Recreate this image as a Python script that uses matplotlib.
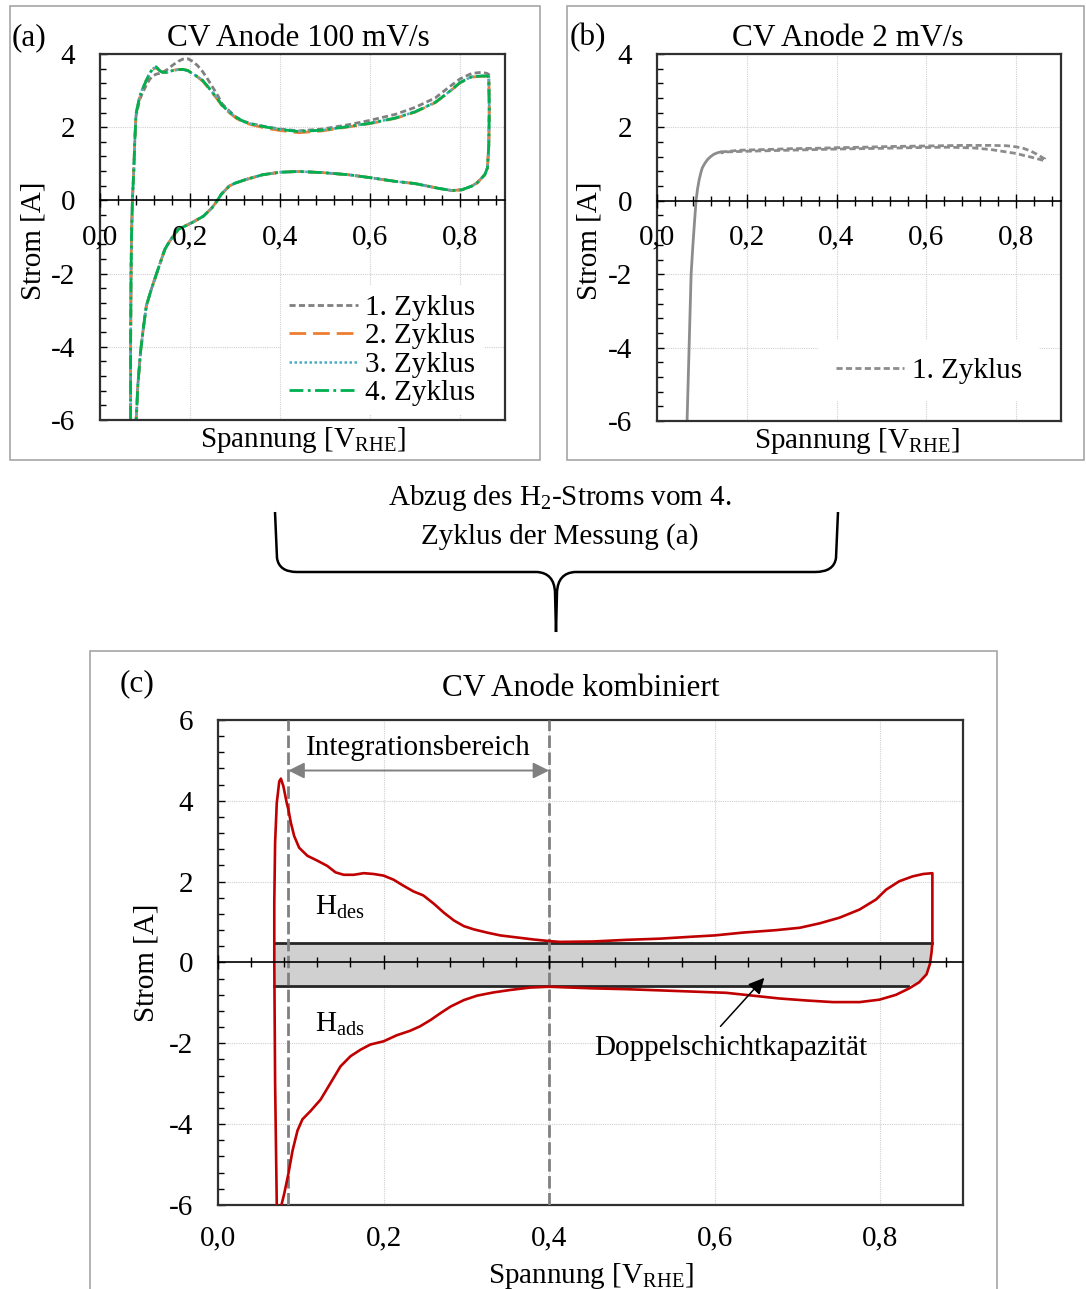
import numpy as np
import matplotlib
matplotlib.use("Agg")
import matplotlib.pyplot as plt
from matplotlib.patches import Rectangle, PathPatch, Polygon
from matplotlib.path import Path
from matplotlib.ticker import FixedLocator, FuncFormatter

plt.rcParams['font.family'] = ['Liberation Serif', 'DejaVu Serif']
plt.rcParams['mathtext.fontset'] = 'custom'
plt.rcParams['mathtext.rm'] = 'Liberation Serif'
plt.rcParams['mathtext.it'] = 'Liberation Serif:italic'
plt.rcParams['mathtext.bf'] = 'Liberation Serif:bold'

W, H = 1086, 1289

# (a) CV 100 mV/s, Spannung in V, Strom in A (ein Umlauf)
v_100 = [0.068, 0.068, 0.069, 0.070, 0.072, 0.075, 0.077, 0.080, 0.088, 0.095,
         0.103, 0.110, 0.117, 0.125, 0.132, 0.139, 0.150, 0.162, 0.174, 0.184,
         0.195, 0.206, 0.217, 0.228, 0.239, 0.250, 0.261, 0.272, 0.287, 0.302,
         0.320, 0.339, 0.370, 0.400, 0.442, 0.494, 0.553, 0.601, 0.656, 0.700,
         0.745, 0.774, 0.800, 0.826, 0.848, 0.860, 0.864, 0.865, 0.864, 0.861,
         0.855, 0.848, 0.838, 0.826, 0.804, 0.782, 0.752, 0.700, 0.656, 0.601,
         0.553, 0.494, 0.442, 0.400, 0.361, 0.324, 0.300, 0.287, 0.269, 0.261,
         0.249, 0.230, 0.204, 0.174, 0.155, 0.144, 0.129, 0.114, 0.103, 0.096,
         0.090, 0.084, 0.081, 0.080]
i_zyk1 = [-6.0, -4.0, -2.0, -1.0, 0.0, 0.80, 1.50, 2.30, 2.75, 2.95,
          3.15, 3.30, 3.40, 3.45, 3.47, 3.50, 3.58, 3.70, 3.80, 3.86,
          3.87, 3.80, 3.68, 3.52, 3.32, 3.10, 2.88, 2.63, 2.45, 2.28,
          2.16, 2.09, 2.01, 1.95, 1.90, 1.95, 2.07, 2.19, 2.35, 2.54,
          2.80, 3.08, 3.32, 3.47, 3.50, 3.47, 3.44, 2.5, 1.5, 0.89,
          0.70, 0.61, 0.48, 0.39, 0.29, 0.27, 0.33, 0.46, 0.52, 0.62,
          0.70, 0.76, 0.79, 0.77, 0.70, 0.57, 0.47, 0.39, 0.16, 0.0,
          -0.20, -0.43, -0.61, -0.79, -1.11, -1.34, -1.88, -2.43, -2.88, -3.52,
          -4.15, -5.06, -5.88, -6.0]
i_zyk2 = [-6.0, -4.0, -2.0, -1.0, 0.0, 0.80, 1.53, 2.36, 2.82, 3.05,
          3.28, 3.45, 3.58, 3.62, 3.55, 3.50, 3.50, 3.55, 3.58, 3.58,
          3.55, 3.46, 3.37, 3.26, 3.10, 2.93, 2.76, 2.57, 2.40, 2.25,
          2.13, 2.06, 1.97, 1.91, 1.85, 1.90, 2.01, 2.10, 2.24, 2.41,
          2.67, 2.94, 3.21, 3.37, 3.39, 3.39, 3.37, 2.5, 1.5, 0.89,
          0.70, 0.61, 0.48, 0.39, 0.29, 0.27, 0.33, 0.46, 0.52, 0.62,
          0.70, 0.76, 0.79, 0.77, 0.70, 0.57, 0.47, 0.39, 0.16, 0.0,
          -0.20, -0.43, -0.61, -0.79, -1.11, -1.34, -1.88, -2.43, -2.88, -3.52,
          -4.15, -5.06, -5.88, -6.0]
i_zyk3 = [-6.0, -4.0, -2.0, -1.0, 0.0, 0.80, 1.53, 2.36, 2.84, 3.08,
          3.30, 3.47, 3.60, 3.64, 3.55, 3.50, 3.50, 3.55, 3.57, 3.57,
          3.54, 3.46, 3.38, 3.28, 3.12, 2.95, 2.78, 2.59, 2.42, 2.27,
          2.15, 2.08, 2.00, 1.94, 1.89, 1.92, 2.02, 2.11, 2.25, 2.42,
          2.68, 2.95, 3.22, 3.38, 3.40, 3.40, 3.38, 2.5, 1.5, 0.89,
          0.70, 0.61, 0.48, 0.39, 0.29, 0.27, 0.33, 0.46, 0.52, 0.62,
          0.70, 0.76, 0.79, 0.77, 0.70, 0.57, 0.47, 0.39, 0.16, 0.0,
          -0.20, -0.43, -0.61, -0.79, -1.11, -1.34, -1.88, -2.43, -2.88, -3.52,
          -4.15, -5.06, -5.88, -6.0]
i_zyk4 = [-6.0, -4.0, -2.0, -1.0, 0.0, 0.80, 1.53, 2.36, 2.82, 3.05,
          3.28, 3.45, 3.60, 3.65, 3.55, 3.50, 3.50, 3.55, 3.57, 3.58,
          3.55, 3.46, 3.38, 3.28, 3.12, 2.95, 2.78, 2.59, 2.42, 2.27,
          2.15, 2.08, 2.00, 1.94, 1.88, 1.92, 2.02, 2.11, 2.25, 2.42,
          2.68, 2.95, 3.22, 3.38, 3.40, 3.40, 3.38, 2.5, 1.5, 0.89,
          0.70, 0.61, 0.48, 0.39, 0.29, 0.27, 0.33, 0.46, 0.52, 0.62,
          0.70, 0.76, 0.79, 0.77, 0.70, 0.57, 0.47, 0.39, 0.16, 0.0,
          -0.20, -0.43, -0.61, -0.79, -1.11, -1.34, -1.88, -2.43, -2.88, -3.52,
          -4.15, -5.06, -5.88, -6.0]
zyklus_labels = ["1. Zyklus", "2. Zyklus", "3. Zyklus", "4. Zyklus"]

# (b) CV 2 mV/s: steiler Anstieg + Plateau (hin und zurück)
v_2_steil = [0.067, 0.0715, 0.076, 0.080, 0.084, 0.087, 0.090, 0.094, 0.098,
             0.101, 0.107, 0.113, 0.120, 0.127, 0.135, 0.142]
i_2_steil = [-6.0, -4.0, -2.0, -1.2, -0.5, 0.0, 0.30, 0.58, 0.78,
             0.90, 1.03, 1.13, 1.21, 1.27, 1.31, 1.33]
v_2_plateau = [0.142, 0.187, 0.250, 0.298, 0.350, 0.409, 0.460, 0.520, 0.580,
               0.631, 0.680, 0.705, 0.742, 0.779, 0.800, 0.816, 0.832, 0.846,
               0.857, 0.864, 0.864, 0.846, 0.830, 0.816, 0.800, 0.779, 0.742,
               0.705, 0.650, 0.580, 0.500, 0.400, 0.300, 0.200, 0.150, 0.142]
i_2_plateau = [1.33, 1.38, 1.40, 1.42, 1.43, 1.45, 1.46, 1.48, 1.49,
               1.50, 1.51, 1.51, 1.51, 1.50, 1.47, 1.43, 1.36, 1.27,
               1.19, 1.14, 1.09, 1.15, 1.20, 1.24, 1.29, 1.33, 1.40,
               1.44, 1.46, 1.45, 1.43, 1.41, 1.38, 1.35, 1.33, 1.30]

# (c) kombiniert (4. Zyklus minus H2-Strom)
v_komb = [0.071, 0.069, 0.068, 0.068, 0.069, 0.071, 0.074, 0.076, 0.079, 0.083,
          0.085, 0.088, 0.092, 0.098, 0.108, 0.120, 0.132, 0.142, 0.152, 0.164,
          0.176, 0.188, 0.200, 0.212, 0.224, 0.236, 0.248, 0.261, 0.273, 0.285,
          0.297, 0.309, 0.325, 0.341, 0.361, 0.381, 0.400, 0.413, 0.453, 0.493,
          0.534, 0.574, 0.600, 0.634, 0.674, 0.703, 0.727, 0.751, 0.775, 0.795,
          0.807, 0.823, 0.839, 0.852, 0.863, 0.863, 0.863, 0.862, 0.860, 0.856,
          0.847, 0.835, 0.819, 0.799, 0.775, 0.743, 0.711, 0.678, 0.646, 0.614,
          0.574, 0.534, 0.493, 0.453, 0.413, 0.400, 0.377, 0.353, 0.333, 0.313,
          0.297, 0.281, 0.269, 0.257, 0.244, 0.232, 0.216, 0.200, 0.184, 0.172,
          0.160, 0.148, 0.136, 0.124, 0.112, 0.102, 0.096, 0.090, 0.085, 0.080,
          0.077]
i_komb = [-6.0, -3.0, 0.0, 1.5, 2.97, 3.95, 4.48, 4.55, 4.36, 3.95,
          3.79, 3.46, 3.13, 2.84, 2.64, 2.52, 2.39, 2.23, 2.17, 2.17,
          2.21, 2.19, 2.15, 2.05, 1.90, 1.76, 1.66, 1.45, 1.23, 1.04,
          0.90, 0.82, 0.74, 0.67, 0.62, 0.57, 0.53, 0.51, 0.52, 0.56,
          0.59, 0.64, 0.67, 0.74, 0.80, 0.86, 0.97, 1.11, 1.31, 1.56,
          1.80, 2.01, 2.13, 2.19, 2.21, 1.20, 0.49, 0.25, -0.04, -0.29,
          -0.49, -0.64, -0.80, -0.92, -0.98, -0.98, -0.94, -0.89, -0.82, -0.75,
          -0.72, -0.69, -0.66, -0.64, -0.61, -0.60, -0.62, -0.68, -0.74, -0.82,
          -0.93, -1.09, -1.25, -1.42, -1.58, -1.69, -1.80, -1.95, -2.03, -2.16,
          -2.32, -2.57, -2.98, -3.39, -3.67, -3.88, -4.16, -4.66, -5.23, -5.72,
          -5.97]

# Doppelschichtbereich und Integrationsgrenzen
band_oben, band_unten = 0.48, -0.57
band_links, band_rechts_oben, band_rechts_unten = 0.068, 0.863, 0.834
int_grenzen = [0.085, 0.4]


def px(x, y):
    return x / W, 1 - y / H


def komma(x, pos):
    return ("%.1f" % x).replace(".", ",")


def ganzzahl(y, pos):
    return "%d" % round(y)


def achsen_stil(ax, ymin, ymax, zahlen_auf_null):
    ax.set_xlim(0, 0.9)
    ax.set_ylim(ymin, ymax)
    ax.set_axisbelow(True)
    ax.yaxis.set_major_locator(FixedLocator(np.arange(ymin, ymax + 0.01, 2)))
    ax.yaxis.set_minor_locator(FixedLocator(np.arange(ymin, ymax + 0.01, 0.4)))
    ax.yaxis.set_major_formatter(FuncFormatter(ganzzahl))
    ax.tick_params(axis='y', which='major', direction='in', length=5, width=1, labelsize=21, pad=18)
    ax.tick_params(axis='y', which='minor', direction='in', length=4, width=1)
    ax.xaxis.set_major_locator(FixedLocator([0.0, 0.2, 0.4, 0.6, 0.8]))
    ax.xaxis.set_major_formatter(FuncFormatter(komma))
    ax.grid(True, which='major', color='#d0d0d0', lw=0.8, ls=(0, (1, 1)))
    for s in ax.spines.values():
        s.set_linewidth(1.6)
        s.set_color('#303030')
    # Nulllinie mit Teilstrichen
    sec = ax.secondary_xaxis((0 - ymin) / (ymax - ymin))
    sec.set_alignment('bottom')
    sec.set_zorder(5)
    sec.xaxis.set_major_locator(FixedLocator([0.0, 0.2, 0.4, 0.6, 0.8]))
    sec.xaxis.set_minor_locator(FixedLocator(np.arange(0.04, 0.89, 0.04)))
    sec.xaxis.set_major_formatter(FuncFormatter(komma))
    sec.spines['bottom'].set_linewidth(1.2)
    sec.tick_params(which='major', direction='inout', length=10, width=1, labelsize=21, pad=12)
    sec.tick_params(which='minor', direction='inout', length=6.5, width=1)
    if zahlen_auf_null:
        ax.tick_params(axis='x', length=0, labelbottom=False)
    else:
        sec.tick_params(labelbottom=False)
        ax.tick_params(axis='x', length=0, labelsize=21, pad=15)
    return sec


fig = plt.figure(figsize=(W / 100, H / 100), dpi=100)

# Rahmen der drei Teilbilder
for (x0, y0, x1, y1) in [(10, 6, 540, 460), (567, 6, 1084, 460), (90, 651, 997, 1300)]:
    fig.add_artist(Rectangle(px(x0, y1), (x1 - x0) / W, (y1 - y0) / H,
                             transform=fig.transFigure, fill=False,
                             edgecolor='#a6a6a6', lw=1.2))

# ---------- (a) ----------
ax_a = fig.add_axes([100 / W, 1 - 420 / H, 405 / W, 366 / H])
achsen_stil(ax_a, -6, 4, True)
stile = [dict(color='#808080', dashes=(2.2, 1.2), lw=2.0),
         dict(color='#ed7d31', dashes=(6, 2.5), lw=2.0),
         dict(color='#4bacc6', dashes=(1, 1), lw=1.8),
         dict(color='#00b050', dashes=(5, 1.6, 1, 1.6), lw=2.0)]
for i_z, lab, st in zip([i_zyk1, i_zyk2, i_zyk3, i_zyk4], zyklus_labels, stile):
    ax_a.plot(v_100, i_z, label=lab, **st)
leg = ax_a.legend(loc='center', bbox_to_anchor=(0.697, 0.19), fontsize=21,
                  handlelength=2.35, handletextpad=0.25, labelspacing=0.07,
                  borderpad=0.3, frameon=True, fancybox=False, framealpha=1)
leg.get_frame().set_edgecolor('none')
ax_a.set_xlabel("Spannung [V$_{\\mathrm{RHE}}$]", fontsize=21)
ax_a.xaxis.set_label_coords(0.5, -0.055)
ax_a.xaxis.label.set_va('center')
ax_a.set_ylabel("Strom [A]", fontsize=21)
ax_a.yaxis.label.set_va('center')
ax_a.yaxis.set_label_coords(-0.165, 0.49)

# ---------- (b) ----------
ax_b = fig.add_axes([657 / W, 1 - 421 / H, 404 / W, 367 / H])
achsen_stil(ax_b, -6, 4, True)
ax_b.plot(v_2_steil, i_2_steil, color='#8c8c8c', lw=2.0)
ax_b.plot(v_2_plateau, i_2_plateau, color='#8c8c8c', lw=2.0, dashes=(2.2, 1.2),
          label="1. Zyklus")
leg = ax_b.legend(loc='center', bbox_to_anchor=(0.673, 0.137), fontsize=21,
                  handlelength=2.35, handletextpad=0.25, borderpad=0.6,
                  frameon=True, fancybox=False, framealpha=1)
leg.get_frame().set_edgecolor('none')
ax_b.set_xlabel("Spannung [V$_{\\mathrm{RHE}}$]", fontsize=21)
ax_b.xaxis.set_label_coords(0.495, -0.055)
ax_b.xaxis.label.set_va('center')
ax_b.set_ylabel("Strom [A]", fontsize=21)
ax_b.yaxis.label.set_va('center')
ax_b.yaxis.set_label_coords(-0.166, 0.49)

# ---------- (c) ----------
ax_c = fig.add_axes([218 / W, 1 - 1205 / H, 745 / W, 485 / H])
achsen_stil(ax_c, -6, 6, False)

v_k = np.array(v_komb)
i_k = np.array(i_komb)
rand = (v_k > 0.8) & (i_k < band_oben) & (i_k > band_unten)
poly = [(band_links, band_oben), (band_rechts_oben, band_oben)]
poly += list(zip(v_k[rand], i_k[rand]))
poly += [(band_rechts_unten, band_unten), (band_links, band_unten)]
ax_c.add_patch(Polygon(poly, closed=True, facecolor='#d0d0d0', edgecolor='none', zorder=1))
ax_c.plot([band_links, band_rechts_oben], [band_oben, band_oben], color='#262626', lw=2, zorder=2)
ax_c.plot([band_links, band_rechts_unten], [band_unten, band_unten], color='#262626', lw=2, zorder=2)

for xg in int_grenzen:
    ax_c.axvline(xg, color='#808080', lw=2, dashes=(4.5, 1.6), zorder=3)

ax_c.plot(v_komb, i_komb, color='#c00000', lw=1.9, zorder=4)

ax_c.annotate('', xy=(int_grenzen[1], 4.75), xytext=(int_grenzen[0], 4.75),
              arrowprops=dict(arrowstyle='<|-|>', color='#808080', lw=1.4,
                              mutation_scale=24, shrinkA=0, shrinkB=0), zorder=6)
ax_c.text(0.242, 5.3, "Integrationsbereich", fontsize=21, ha='center', va='center')
ax_c.text(0.147, 1.36, "H$_{\\mathrm{des}}$", fontsize=21, ha='center', va='center')
ax_c.text(0.147, -1.53, "H$_{\\mathrm{ads}}$", fontsize=21, ha='center', va='center')
ax_c.annotate('', xy=(0.66, -0.38), xytext=(0.607, -1.58),
              arrowprops=dict(arrowstyle='-|>', color='black', lw=1.1,
                              mutation_scale=24, shrinkA=0, shrinkB=0), zorder=6)
ax_c.text(0.62, -2.12, "Doppelschichtkapazität", fontsize=21, ha='center', va='center')

ax_c.set_xlabel("Spannung [V$_{\\mathrm{RHE}}$]", fontsize=21)
ax_c.xaxis.set_label_coords(0.5, -0.146)
ax_c.xaxis.label.set_va('center')
ax_c.set_ylabel("Strom [A]", fontsize=21)
ax_c.yaxis.label.set_va('center')
ax_c.yaxis.set_label_coords(-0.096, 0.5)

# Titel und Teilbild-Buchstaben
fig.text(*px(298, 38), "CV Anode 100 mV/s", fontsize=22.5, ha='center', va='center')
fig.text(*px(848, 38), "CV Anode 2 mV/s", fontsize=22.5, ha='center', va='center')
fig.text(*px(581, 689), "CV Anode kombiniert", fontsize=22.5, ha='center', va='center')
fig.text(*px(29, 38), "(a)", fontsize=22.5, ha='center', va='center')
fig.text(*px(588, 38), "(b)", fontsize=22.5, ha='center', va='center')
fig.text(*px(137, 684), "(c)", fontsize=22.5, ha='center', va='center')

# Geschweifte Klammer mit Erklärung
fig.text(*px(560, 498), "Abzug des H$_2$-Stroms vom 4.", fontsize=21, ha='center', va='center')
fig.text(*px(560, 537), "Zyklus der Messung (a)", fontsize=21, ha='center', va='center')
klammer = [(275, 512), (277, 558), (279, 572), (297, 572), (537, 572), (554, 573),
           (555, 592), (556, 632), (557, 592), (558, 573), (575, 572), (815, 572),
           (834, 572), (836, 558), (838, 512)]
codes = [Path.MOVETO, Path.LINETO, Path.CURVE3, Path.CURVE3, Path.LINETO,
         Path.CURVE3, Path.CURVE3, Path.LINETO, Path.LINETO, Path.CURVE3,
         Path.CURVE3, Path.LINETO, Path.CURVE3, Path.CURVE3, Path.LINETO]
fig.add_artist(PathPatch(Path([px(x, y) for x, y in klammer], codes),
                         transform=fig.transFigure, fill=False,
                         edgecolor='black', lw=1.8))

fig.savefig("out.png", dpi=100)
